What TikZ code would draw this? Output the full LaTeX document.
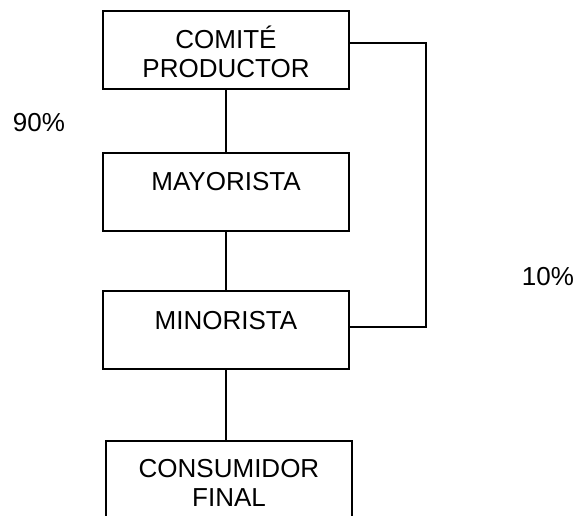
\documentclass[tikz,border=0pt]{standalone}
\usepackage{fontspec}
\setmainfont{Liberation Sans}
\begin{document}
\begin{tikzpicture}[x=1pt,y=-1pt,
    box/.style={draw, line width=2pt, inner sep=0pt, minimum width=246pt, minimum height=78pt},
    oneline/.style={text height=38pt, text depth=40pt},
    twoline/.style={align=center, text height=67pt, text depth=11pt},
    pct/.style={inner sep=0pt, anchor=base},
    link/.style={line width=2pt}]
    \useasboundingbox (0,0) rectangle (576,516);
    \tikzset{every node/.style={font=\fontsize{26}{29}\selectfont}}

    \node[box, twoline] (comite) at (226,50) {COMITÉ\\PRODUCTOR};
    \node[box, oneline] (mayor) at (226,192) {MAYORISTA};
    \node[box, oneline] (minor) at (226,330) {MINORISTA};
    \node[box, twoline, text height=65pt, text depth=13pt] (consum) at (229,480) {CONSUMIDOR\\FINAL};

    \draw[link] (comite.south) -- (comite.south |- mayor.north);
    \draw[link] (mayor.south) -- (mayor.south |- minor.north);
    \draw[link] (minor.south) -- (minor.south |- consum.north);
    \draw[link] ([yshift=7pt]comite.east) -- ++(76,0) |- ([yshift=3pt]minor.east);

    \node[pct] (p90) at (39,132) {90\%};
    \node[pct] (p10) at (548,285) {10\%};
\end{tikzpicture}
\end{document}
